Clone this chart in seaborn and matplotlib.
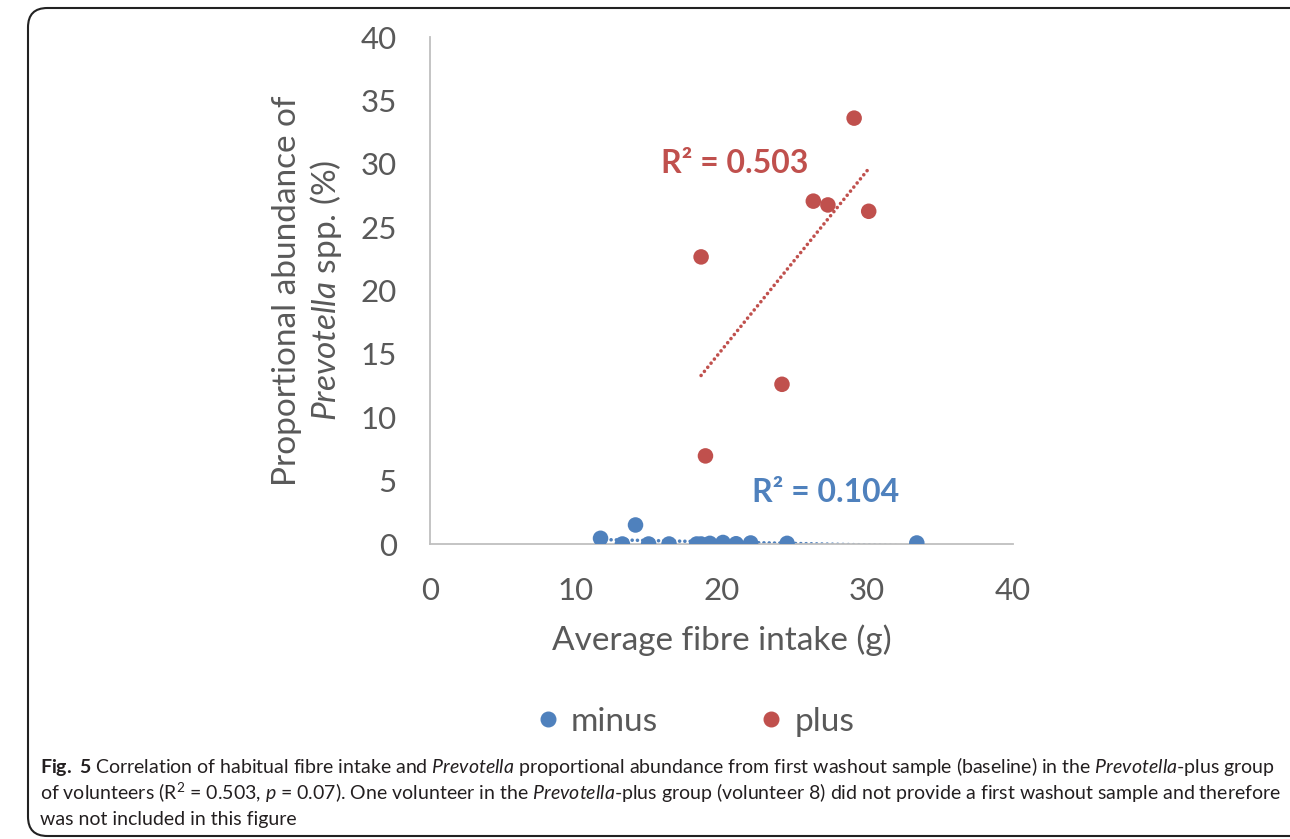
import numpy as np
import pandas as pd
import matplotlib
matplotlib.use("Agg")
import matplotlib.pyplot as plt
from matplotlib.patches import FancyBboxPatch
from matplotlib.lines import Line2D
import seaborn as sns

# ── data ─────────────────────────────────────────────────
minus_fibre = [11.7, 14.1, 13.2, 15.0, 16.4, 18.3, 18.6, 19.2, 20.1, 21.0, 22.0, 24.5, 33.4]
minus_prev = [0.45, 1.5, 0.0, 0.0, 0.0, 0.0, 0.0, 0.05, 0.12, 0.02, 0.08, 0.05, 0.08]
plus_fibre = [29.1, 26.3, 27.3, 30.1, 18.6, 24.15, 18.9]
plus_prev = [33.6, 27.05, 26.75, 26.25, 22.65, 12.6, 6.95]
groups = ["minus", "plus"]
r2_labels = {"minus": "R² = 0.104", "plus": "R² = 0.503"}

BLUE = "#4F81BD"
RED = "#C0504D"
GREY = "#595959"

df = pd.DataFrame({
    "fibre": minus_fibre + plus_fibre,
    "prev": minus_prev + plus_prev,
    "group": ["minus"] * len(minus_fibre) + ["plus"] * len(plus_fibre),
})

sns.set_theme(style="white")
plt.rcParams["font.family"] = ["Lato", "DejaVu Sans"]
plt.rcParams["mathtext.fontset"] = "custom"
plt.rcParams["mathtext.rm"] = "Lato"
plt.rcParams["mathtext.it"] = "Lato:italic"
plt.rcParams["mathtext.bf"] = "Lato:bold"

fig = plt.figure(figsize=(12.9, 8.39), dpi=100)
ax = fig.add_axes([430 / 1290, 1 - 544 / 839, (1013 - 430) / 1290, (544 - 37) / 839])

sns.scatterplot(data=df, x="fibre", y="prev", hue="group", hue_order=groups,
                palette=[BLUE, RED], s=125, edgecolor="none", legend=False,
                ax=ax, zorder=3)

# dotted linear trendlines, like excel
for g, c in zip(groups, [BLUE, RED]):
    sub = df[df.group == g]
    k, b = np.polyfit(sub.fibre, sub.prev, 1)
    xs = np.array([sub.fibre.min(), sub.fibre.max()])
    ax.plot(xs, k * xs + b, color=c, lw=2.6, ls=(0, (0.01, 1.45)),
            dash_capstyle="round", zorder=2)

ax.text(15.85, 30.05, r2_labels["plus"], color=RED, fontsize=23,
        fontweight="bold", va="center", ha="left")
ax.text(22.1, 4.1, r2_labels["minus"], color=BLUE, fontsize=23,
        fontweight="bold", va="center", ha="left")

ax.set_xlim(0, 40)
ax.set_ylim(0, 40)
ax.set_xticks(range(0, 41, 10))
ax.set_yticks(range(0, 41, 5))
ax.tick_params(length=0, labelsize=22.5, labelcolor=GREY)
ax.tick_params(axis="y", pad=24)
ax.tick_params(axis="x", pad=24)
for s in ["top", "right"]:
    ax.spines[s].set_visible(False)
for s in ["left", "bottom"]:
    ax.spines[s].set_color("#BFBFBF")
    ax.spines[s].set_linewidth(1.3)
ax.set_facecolor("none")

ax.set_xlabel("Average fibre intake (g)", fontsize=24, color=GREY, labelpad=14)
ax.set_ylabel("Proportional abundance of\n$\\it{Prevotella}$ spp. (%)",
              fontsize=24, color=GREY, labelpad=12, linespacing=1.2)

# legend along the bottom
handles = [Line2D([], [], ls="none", marker="o", ms=10.5, color=c) for c in [BLUE, RED]]
fig.legend(handles, groups, loc="center", bbox_to_anchor=(0.537, 1 - 722 / 839),
           ncol=2, frameon=False, fontsize=24, labelcolor=GREY,
           columnspacing=2.9, handletextpad=0.2, handlelength=1.0)

# caption
cap = [
    "$\\bf{Fig.\\ 5}$ Correlation of habitual fibre intake and $\\it{Prevotella}$ proportional abundance "
    "from first washout sample (baseline) in the $\\it{Prevotella}$-plus group",
    "of volunteers (R$^2$ = 0.503, $\\it{p}$ = 0.07). One volunteer in the $\\it{Prevotella}$-plus group "
    "(volunteer 8) did not provide a first washout sample and therefore",
    "was not included in this figure",
]
for i, line in enumerate(cap):
    fig.text(40 / 1290, 1 - (767 + 26 * i) / 839, line, fontsize=14.0,
             color="#231F20", va="center", ha="left")

# rounded frame around the figure panel
box = FancyBboxPatch((28 / 1290, 1 - 836 / 839), 1.1, (836 - 8) / 839,
                     boxstyle="round,pad=0,rounding_size=0.015",
                     transform=fig.transFigure, fill=False, lw=1.5,
                     ec="#222222", mutation_aspect=1290 / 839)
fig.patches.append(box)

fig.savefig("out.png", dpi=100)
